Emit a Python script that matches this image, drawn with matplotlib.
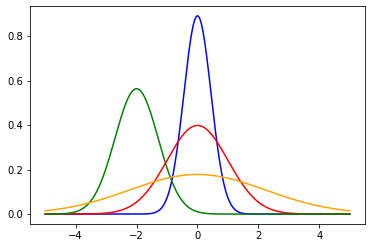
import numpy as np
import matplotlib
matplotlib.use("Agg")
import matplotlib.pyplot as plt

# Distribution parameters (mean, variance)
means = [0.0, 0.0, -2.0, 0.0]
variances = [0.2, 1.0, 0.5, 5.0]
colors = ["blue", "red", "green", "orange"]
x_range = [-5.0, 5.0]

x = np.linspace(x_range[0], x_range[1], 500)

fig = plt.figure(figsize=(372 / 72, 248 / 72), dpi=72)
ax = fig.add_axes([0.0806, 0.0968, 0.9005, 0.879])
for mu, var, c in zip(means, variances, colors):
    y = np.exp(-(x - mu) ** 2 / (2 * var)) / np.sqrt(2 * np.pi * var)
    ax.plot(x, y, color=c)
ax.set_yticks([0.0, 0.2, 0.4, 0.6, 0.8])
ax.set_xticks([-4, -2, 0, 2, 4])
fig.savefig("out.png", dpi=72)
